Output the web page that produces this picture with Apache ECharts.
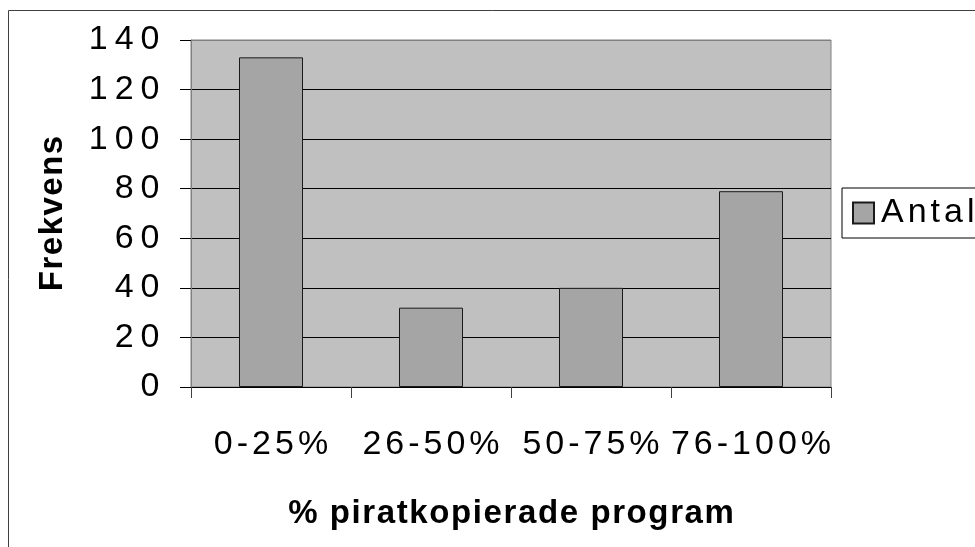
<!DOCTYPE html>
<html>
<head>
<meta charset="utf-8">
<script src="https://cdn.jsdelivr.net/npm/echarts@6/dist/echarts.min.js"></script>
<style>
html,body{margin:0;padding:0;background:#fff;}
#chart{width:975px;height:547px;}
</style>
</head>
<body>
<div id="chart"></div>
<script>
// Data
var categories = ['0-25%', '26-50%', '50-75%', '76-100%'];
var antalValues = [133, 32, 40, 79];
var seriesName = 'Antal';
var xAxisTitle = '% piratkopierade program';
var yAxisTitle = 'Frekvens';
var yTicks = { min: 0, max: 140, interval: 20 };

var FONT = '"Liberation Sans", Arial, sans-serif';

function spaced(s, style) {
  return s.split('').map(function (c) { return '{' + style + '|' + c + '}'; }).join('');
}

var chart = echarts.init(document.getElementById('chart'), null, { renderer: 'canvas' });

var option = {
  animation: false,
  backgroundColor: '#ffffff',
  graphic: [{
    type: 'rect',
    silent: true,
    z: -10,
    shape: { x: 8.5, y: 10.5, width: 1200, height: 800 },
    style: { fill: 'none', stroke: '#404040', lineWidth: 1 }
  }],
  grid: {
    left: 191, top: 40, width: 640, height: 347,
    show: true,
    backgroundColor: '#c0c0c0',
    borderColor: '#808080',
    borderWidth: 1
  },
  legend: {
    show: true,
    left: 842,
    top: 188,
    orient: 'vertical',
    padding: [8, 30, 8, 10],
    backgroundColor: '#ffffff',
    borderColor: '#000000',
    borderWidth: 1,
    borderRadius: 0,
    itemWidth: 21,
    itemHeight: 21,
    icon: 'rect',
    data: [seriesName],
    formatter: function (n) { return spaced(n, 'l'); },
    textStyle: {
      rich: {
        l: { fontFamily: FONT, fontSize: 34, color: '#000', padding: [0, 2, 0, 2] }
      }
    }
  },
  xAxis: {
    type: 'category',
    data: categories,
    boundaryGap: true,
    axisLine: { show: true, lineStyle: { color: '#000', width: 1 } },
    axisTick: { show: true, length: 11, inside: false, lineStyle: { color: '#404040', width: 1 } },
    axisLabel: {
      interval: 0,
      margin: 41,
      formatter: function (v) { return spaced(v, 'x'); },
      rich: {
        x: { fontFamily: FONT, fontSize: 34, color: '#000', padding: [0, 2, 0, 2] }
      }
    },
    splitLine: { show: false },
    name: spaced(xAxisTitle, 't'),
    nameLocation: 'middle',
    nameGap: 110,
    nameTextStyle: {
      rich: {
        t: { fontFamily: FONT, fontSize: 33, fontWeight: 'bold', color: '#000', padding: [0, 0.8, 0, 0.8] }
      }
    }
  },
  yAxis: {
    type: 'value',
    min: yTicks.min,
    max: yTicks.max,
    interval: yTicks.interval,
    axisLine: { show: true, lineStyle: { color: '#808080', width: 1 } },
    axisTick: { show: true, length: 11, inside: false, lineStyle: { color: '#000', width: 1 } },
    axisLabel: {
      margin: 28,
      formatter: function (v) { return spaced(String(v), 'y'); },
      rich: {
        y: { fontFamily: FONT, fontSize: 34, color: '#000', padding: [0, 3.5, 0, 3.5] }
      }
    },
    splitLine: {
      show: true,
      lineStyle: { color: ['#000', '#000', '#000', '#000', '#000', '#000', '#000', '#808080'], width: 1 }
    },
    name: spaced(yAxisTitle, 'n'),
    nameLocation: 'middle',
    nameRotate: 90,
    nameGap: 122,
    nameTextStyle: {
      rich: {
        n: { fontFamily: FONT, fontSize: 33, fontWeight: 'bold', color: '#000', padding: [0, 0.75, 0, 0.75] }
      }
    }
  },
  series: [{
    name: seriesName,
    type: 'bar',
    data: antalValues,
    barWidth: '40%',
    itemStyle: { color: '#a5a5a5', borderColor: '#1a1a1a', borderWidth: 1 },
    emphasis: { disabled: true }
  }]
};

chart.setOption(option);
</script>
</body>
</html>
